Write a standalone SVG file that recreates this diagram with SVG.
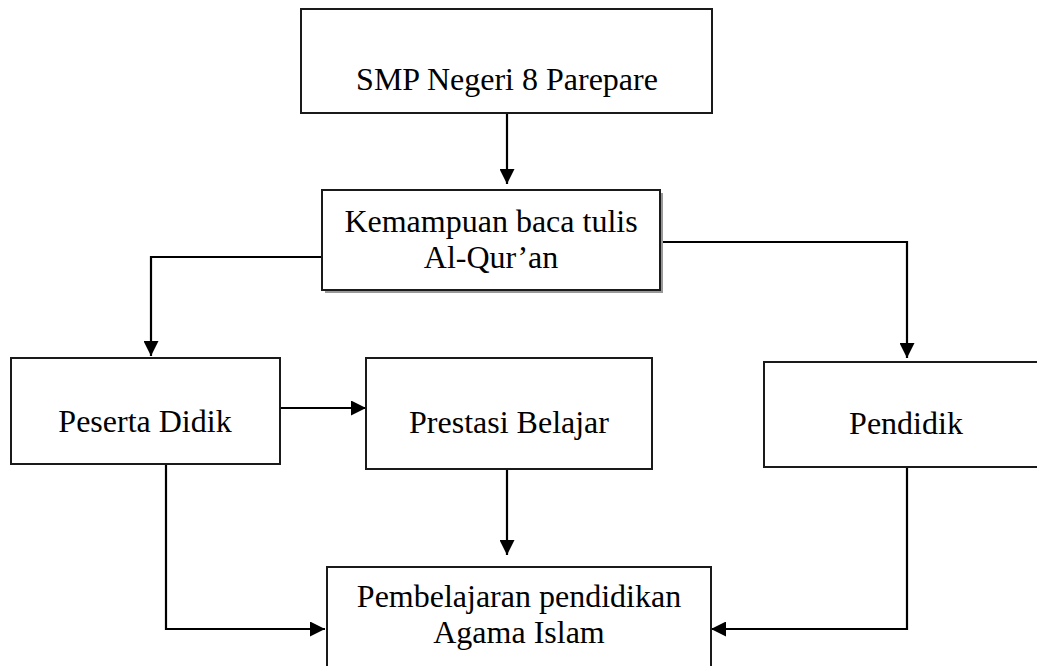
<svg xmlns="http://www.w3.org/2000/svg" width="1037" height="666" viewBox="0 0 1037 666">
<style>
.box{fill:#fff;stroke:#1a1a1a;stroke-width:2}
.shadow{fill:#999;stroke:none}
.lbl{font-family:"Liberation Serif","Times New Roman",serif;font-size:32px;fill:#000;text-anchor:middle}
.conn{fill:none;stroke:#000;stroke-width:2.2}
</style>
<defs>
<marker id="ah" viewBox="0 0 15 15" refX="15" refY="7.5" markerWidth="15" markerHeight="15" markerUnits="userSpaceOnUse" orient="auto">
<path d="M0,0 L15,7.5 L0,15 z" fill="#000"/>
</marker>
</defs>
<rect width="1037" height="666" fill="#fff"/>
<g id="connectors">
<path class="conn" d="M507,113 V184" marker-end="url(#ah)"/>
<path class="conn" d="M322,257 H151 V356" marker-end="url(#ah)"/>
<path class="conn" d="M660,242 H907 V358" marker-end="url(#ah)"/>
<path class="conn" d="M280,408 H366" marker-end="url(#ah)"/>
<path class="conn" d="M507,469 V555" marker-end="url(#ah)"/>
<path class="conn" d="M166,463 V629 H325" marker-end="url(#ah)"/>
<path class="conn" d="M907,467 V629 H711" marker-end="url(#ah)"/>
</g>
<g id="smp">
<rect class="box" x="301" y="9" width="411" height="104"/>
<text class="lbl" x="507" y="90">SMP Negeri 8 Parepare</text>
</g>
<g id="kemampuan">
<rect class="shadow" x="325" y="193" width="338" height="100"/>
<rect class="box" x="322" y="190" width="338" height="100"/>
<text class="lbl" x="491" y="232">Kemampuan baca tulis</text>
<text class="lbl" x="491" y="268">Al-Qur’an</text>
</g>
<g id="peserta">
<rect class="box" x="11" y="358" width="269" height="106"/>
<text class="lbl" x="145" y="432">Peserta Didik</text>
</g>
<g id="prestasi">
<rect class="box" x="366" y="358" width="286" height="111"/>
<text class="lbl" x="509" y="433">Prestasi Belajar</text>
</g>
<g id="pendidik">
<rect class="box" x="764" y="362" width="290" height="105"/>
<text class="lbl" x="906" y="434">Pendidik</text>
</g>
<g id="pembelajaran">
<rect class="box" x="327" y="567" width="384" height="120"/>
<text class="lbl" x="519" y="607">Pembelajaran pendidikan</text>
<text class="lbl" x="519" y="643">Agama Islam</text>
</g>
</svg>
